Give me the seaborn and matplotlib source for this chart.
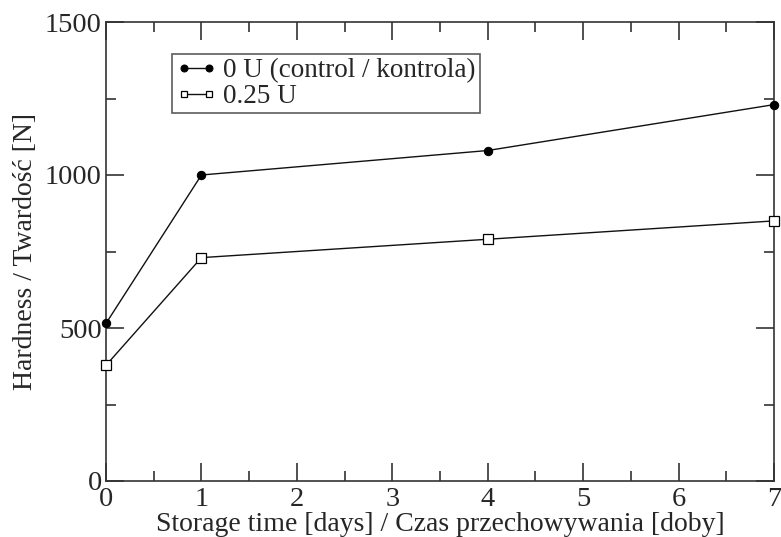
import matplotlib
matplotlib.use("Agg")
import matplotlib.pyplot as plt
from matplotlib.ticker import MultipleLocator
import seaborn as sns
import pandas as pd

days = [0, 1, 4, 7]
hardness_0u = [515, 1000, 1080, 1230]
hardness_025u = [378, 730, 790, 850]
labels = ["0 U (control / kontrola)", "0.25 U"]

sns.set_style("ticks")
plt.rcParams['font.family'] = ['Liberation Serif', 'DejaVu Serif']

fig = plt.figure(figsize=(7.81, 5.37), dpi=100)
ax = fig.add_axes([106/781, 1 - 481/537, (774 - 106)/781, (481 - 22)/537])

df0 = pd.DataFrame({"day": days, "h": hardness_0u})
df1 = pd.DataFrame({"day": days, "h": hardness_025u})

sns.lineplot(data=df0, x="day", y="h", ax=ax, color="#111111", lw=1.0,
             marker="o", markersize=6, markerfacecolor="black",
             markeredgecolor="black", label=labels[0])
sns.lineplot(data=df1, x="day", y="h", ax=ax, color="#111111", lw=1.0,
             marker="s", markersize=6.5, markerfacecolor="white",
             markeredgecolor="black", markeredgewidth=0.9, label=labels[1])

for ln in ax.lines:
    ln.set_clip_on(False)
    ln.set_zorder(5)

ax.set_xlim(0, 7)
ax.set_ylim(0, 1500)
ax.xaxis.set_major_locator(MultipleLocator(1))
ax.xaxis.set_minor_locator(MultipleLocator(0.5))
ax.yaxis.set_major_locator(MultipleLocator(500))
ax.yaxis.set_minor_locator(MultipleLocator(250))

for s in ax.spines.values():
    s.set_visible(True)
    s.set_linewidth(1.2)
    s.set_color("#333333")

ax.tick_params(which="both", direction="in", top=True, right=True,
               color="#333333", width=1.2)
ax.tick_params(which="major", length=13, labelsize=20.5, pad=3)
ax.tick_params(axis="x", which="major", pad=4)
ax.tick_params(which="minor", length=7)

ax.set_xlabel("Storage time [days] / Czas przechowywania [doby]", fontsize=20, labelpad=0)
ax.set_ylabel("Hardness / Twardość [N]", fontsize=20, labelpad=5)

leg = ax.legend(loc="upper left", bbox_to_anchor=(66/668, 1 - 32/459),
                frameon=True, fancybox=False, fontsize=19.5, handlelength=1.5,
                handletextpad=0.25, borderpad=0.15, labelspacing=0.05,
                borderaxespad=0, numpoints=2)
leg.get_frame().set_edgecolor("#333333")
leg.get_frame().set_linewidth(1.2)
for h in leg.legend_handles:
    h.set_markersize(5)

fig.savefig("out.png", dpi=100)
